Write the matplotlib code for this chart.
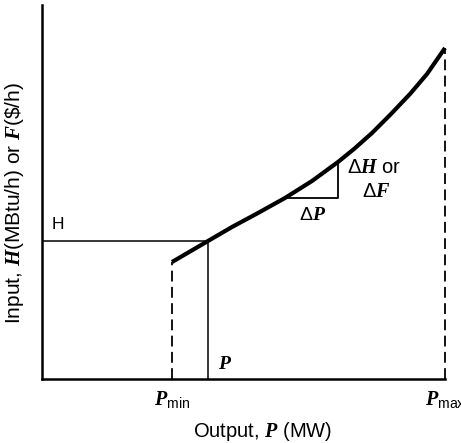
import matplotlib
matplotlib.use("Agg")
import matplotlib.pyplot as plt

plt.rcParams['font.family'] = ['Liberation Sans', 'DejaVu Sans']
plt.rcParams['mathtext.fontset'] = 'custom'
plt.rcParams['mathtext.rm'] = 'Liberation Sans'
plt.rcParams['mathtext.it'] = 'Liberation Serif:italic:bold'
plt.rcParams['mathtext.bf'] = 'Liberation Serif:italic:bold'

# крива вхід-вихід (умовні одиниці)
p_out = [130, 166, 190, 216, 243, 270, 296, 312, 330, 348, 368, 385, 403]
h_in = [117, 138, 152, 166, 181, 198, 217, 230, 246, 264, 285, 305, 331]

p_min = 130
p_op = 166
h_op = 138
p_max = 403
dp_start, dp_end = 243, 296
dh_start, dh_end = 181, 217

fig = plt.figure(figsize=(4.61, 4.43), dpi=100)
ax = fig.add_axes([42 / 461, 64 / 443, 403 / 461, 374 / 443])
ax.set_xlim(0, 403)
ax.set_ylim(0, 374)

ax.plot(p_out, h_in, color='black', lw=3, solid_capstyle='butt',
        solid_joinstyle='round', clip_on=False)

# робоча точка
ax.plot([0, p_op], [h_op, h_op], color='black', lw=1.1)
ax.plot([p_op, p_op], [0, h_op], color='black', lw=1.1)
ax.plot([p_min, p_min], [0, h_in[0]], color='black', lw=1.3, ls=(0, (6, 3)))
ax.plot([p_max, p_max], [0, h_in[-1]], color='black', lw=1.3, ls=(0, (6, 3)), clip_on=False)

# трикутник приросту
ax.plot([dp_start, dp_end, dp_end], [dh_start, dh_start, dh_end], color='black', lw=1.3)

ax.text(10, 150, "H", fontsize=12.5)
ax.text(p_op + 10, 10, r"$\mathit{P}$", fontsize=14)
ax.text((dp_start + dp_end) / 2 + 1, dh_start - 9, r"$\Delta \mathit{P}$", fontsize=14,
        ha='center', va='top')
ax.text(dp_end + 9, dh_end - 5, r"$\Delta \mathit{H}$ or", fontsize=14.5, va='center')
ax.text(dp_end + 24, dh_end - 29, r"$\Delta \mathit{F}$", fontsize=14.5, va='center')

for s in ['top', 'right']:
    ax.spines[s].set_visible(False)
for s in ['left', 'bottom']:
    ax.spines[s].set_linewidth(1.8)

ax.set_xticks([p_min, p_max])
ax.set_xticklabels([r"$\mathit{P}_{\mathrm{min}}$", r"$\mathit{P}_{\mathrm{max}}$"], fontsize=14.5)
ax.set_yticks([])
ax.tick_params(axis='x', length=0, pad=7)

ax.set_xlabel(r"Output, $\mathit{P}$ (MW)", fontsize=14.5)
ax.set_ylabel(r"Input, $\mathit{H}$(MBtu/h) or $\mathit{F}$(\$/h)", fontsize=15)
ax.xaxis.set_label_coords(0.548, -0.11)
ax.yaxis.set_label_coords(-0.04, 0.47)

fig.savefig("out.png", dpi=100)
